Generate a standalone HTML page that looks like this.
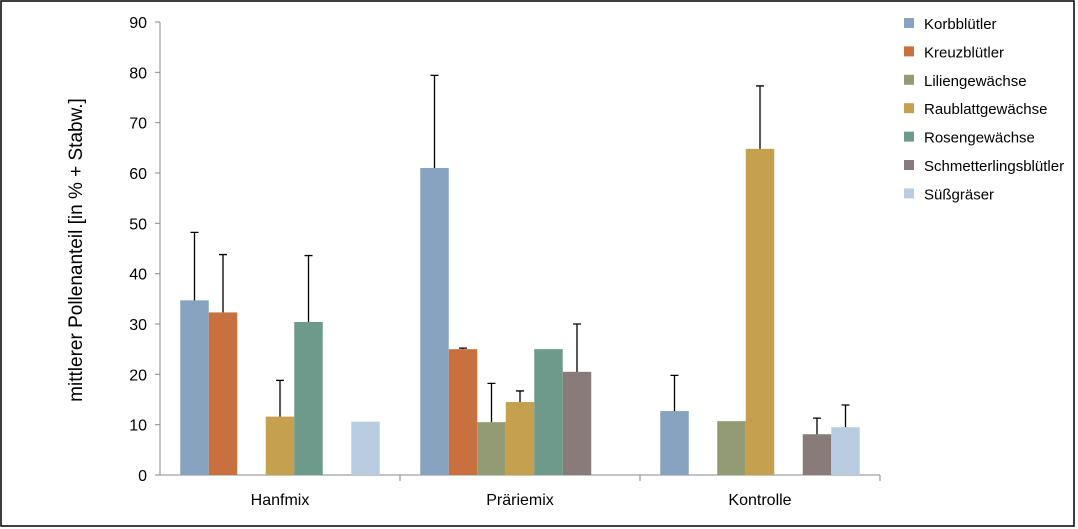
<!DOCTYPE html>
<html><head><meta charset="utf-8"><style>
body{margin:0;background:#fff;}
svg{display:block;font-family:"Liberation Sans",sans-serif;}
</style></head><body>
<svg id="c" width="1078" height="529">
<rect x="1" y="1" width="1073" height="525" fill="#fff" stroke="#000" stroke-width="1.5"/>
<text transform="translate(82,250) rotate(-90)" text-anchor="middle" font-size="19" fill="#000">mittlerer Pollenanteil [in % + Stabw.]</text>
<g id="plot"></g>
</svg>
<script>
const groups=["Hanfmix","Präriemix","Kontrolle"];
const seriesNames=["Korbblütler","Kreuzblütler","Liliengewächse","Raublattgewächse","Rosengewächse","Schmetterlingsblütler","Süßgräser"];
const colors=["#87a3bf","#c8703e","#929b74","#c4a04f","#6e9a8c","#8a7b7b","#b8cde0"];
const korb=[34.7,61,12.7];
const kreuz=[32.3,25,0];
const lilien=[0,10.5,10.7];
const raub=[11.6,14.5,64.8];
const rosen=[30.4,25,0];
const schm=[0,20.5,8.1];
const suess=[10.6,0,9.5];
const korbErr=[48.2,79.4,19.8];
const kreuzErr=[43.8,25.2,null];
const lilienErr=[null,18.2,null];
const raubErr=[18.8,16.7,77.3];
const rosenErr=[43.6,null,null];
const schmErr=[null,30,11.3];
const suessErr=[null,null,13.9];
const yTicks=[0,10,20,30,40,50,60,70,80,90];
const values=[korb,kreuz,lilien,raub,rosen,schm,suess];
const errs=[korbErr,kreuzErr,lilienErr,raubErr,rosenErr,schmErr,suessErr];
const NS="http://www.w3.org/2000/svg";
const g=document.getElementById('plot');
const x0=160,x1=880,y0=475,y1=22;
const y=v=>y0-(v/90)*(y0-y1);
const gw=(x1-x0)/groups.length, bw=28.5, off=(gw-bw*7)/2;
const xb=(gi,si)=>x0+gi*gw+off+si*bw;
function mk(t,a){const e=document.createElementNS(NS,t);for(const k in a)e.setAttribute(k,a[k]);g.appendChild(e);return e;}
yTicks.forEach(t=>{
  const l=mk('line',{x1:x0-5,x2:x0,y1:y(t),y2:y(t),stroke:'#888'});
  
  
  const tx=mk('text',{x:x0-13,y:y(t)+6,'text-anchor':'end','font-size':16});
  tx.textContent=t;
  
  
});
const ya=mk('line',{x1:x0,x2:x0,y1:y1,y2:y0,stroke:'#888'});


const xa=mk('line',{x1:x0,x2:x1,y1:y0,y2:y0,stroke:'#888'});


groups.forEach((gn,gi)=>{
  const tk=mk('line',{x1:x0+(gi+1)*gw,x2:x0+(gi+1)*gw,y1:y0,y2:y0+6,stroke:'#888'});
  
  
  const tx=mk('text',{x:x0+gi*gw+gw/2,y:y0+30,'text-anchor':'middle','font-size':16});
  tx.textContent=gn;
  
  
  values.forEach((vals,si)=>{
    const v=vals[gi];
    if(v>0){
      const r=mk('rect',{x:xb(gi,si),y:y(v),width:bw,height:y0-y(v),fill:colors[si]});
      
      
    }
    const e=errs[si][gi];
    if(e!=null){
      const cx=xb(gi,si)+bw/2;
      const el=mk('path',{d:`M${cx},${y(v)}V${y(e)}M${cx-4},${y(e)}H${cx+4}`,stroke:'#000','stroke-width':1.3,fill:'none'});
      
      
    }
  });
});
seriesNames.forEach((n,i)=>{
  const yy=23+i*28.4;
  const s=mk('rect',{x:904,y:yy-5,width:10,height:10,fill:colors[i]});
  
  
  const t=mk('text',{x:924,y:yy+6,'font-size':15});
  t.textContent=n;
  
  
});
</script>
</body></html>
